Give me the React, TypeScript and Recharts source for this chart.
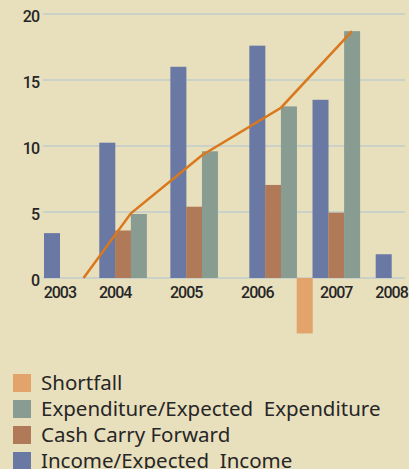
import React from 'react';
import { ComposedChart, Bar, Line, XAxis, YAxis, CartesianGrid } from 'recharts';

const years = ['2003', '2004', '2005', '2006', '2007', '2008'];
const income = [3.4, 10.25, 16.0, 17.6, 13.5, 1.8];
const cashCarryForward = [null, 3.6, 5.4, 7.05, 4.95, null];
const expenditure = [null, 4.85, 9.6, 13.0, 18.7, null];
const shortfall = [null, null, null, -4.2, null, null];
const trend = [0, 4.9, 9.3, 12.9, 18.7];
const yTicks = [0, 5, 10, 15, 20];

// the original graphic spaces its year groups unevenly, so the x axis is cut
// into half-bar slots and each group / label / line point sits on one of them
const slotCount = 44;
const groupSlots = [0, 7, 16, 26, 34, 42];
const labelSlots = [1, 8, 17, 26, 36, 43];
const trendSlots = [4, 10, 19, 29, 38];

const COLORS = {
  income: '#6a78a4',
  cash: '#b07a58',
  expenditure: '#889c91',
  shortfall: '#e3a46b',
  trend: '#d9781c',
  grid: '#c9d1c9',
  text: '#262626',
  bg: '#e8dfbd',
};

type Row = {
  label: string;
  income: number | null;
  cash: number | null;
  expenditure: number | null;
  shortfall: number | null;
  trend: number | null;
};

const rows: Row[] = Array.from({ length: slotCount }, () => ({
  label: '',
  income: null,
  cash: null,
  expenditure: null,
  shortfall: null,
  trend: null,
}));

years.forEach((year, i) => {
  const g = groupSlots[i];
  rows[labelSlots[i]].label = year;
  rows[g].income = income[i];
  if (cashCarryForward[i] != null) rows[g + 2].cash = cashCarryForward[i];
  if (expenditure[i] != null) rows[g + 4].expenditure = expenditure[i];
  if (shortfall[i] != null) rows[g + 6].shortfall = shortfall[i];
});
trend.forEach((v, i) => {
  rows[trendSlots[i]].trend = v;
});

const legendItems = [
  { name: 'Shortfall', color: COLORS.shortfall },
  { name: 'Expenditure/Expected  Expenditure', color: COLORS.expenditure },
  { name: 'Cash Carry Forward', color: COLORS.cash },
  { name: 'Income/Expected  Income', color: COLORS.income },
];

// bars are one bar wide but each slot is half a bar, so draw them double width
const WideBar = (props: any) => {
  const { x, y, width, height, fill } = props;
  if (!height || isNaN(height)) return null;
  const top = height < 0 ? y + height : y;
  return <rect x={x - width / 2} y={top} width={width * 2} height={Math.abs(height)} fill={fill} />;
};

const tickStyle = {
  fill: COLORS.text,
  fontSize: 16,
  fontFamily: 'Roboto, sans-serif',
  fontWeight: 500,
  letterSpacing: -1,
};

const App: React.FC = () => {
  return (
    <div
      style={{
        position: 'fixed',
        top: 0,
        left: 0,
        width: 409,
        height: 469,
        overflow: 'hidden',
        background: COLORS.bg,
      }}
    >
      <ComposedChart
        width={409}
        height={469}
        data={rows}
        margin={{ top: 14, right: 4, bottom: 95, left: 0 }}
        barCategoryGap={0}
        barGap={0}
        stackOffset="sign"
      >
        <CartesianGrid vertical={false} horizontalValues={yTicks} stroke={COLORS.grid} strokeWidth={2} />
        <XAxis
          dataKey="label"
          interval={0}
          axisLine={false}
          tickLine={false}
          tickSize={0}
          tickMargin={0}
          height={30}
          padding={{ left: 5, right: 9.5 }}
          tick={{ ...tickStyle, dy: -57 }}
        />
        <YAxis
          domain={[-5, 20]}
          ticks={yTicks}
          width={43}
          axisLine={false}
          tickLine={false}
          tickSize={0}
          tickMargin={4}
          tick={{ ...tickStyle, dy: 2.5 }}
        />
        <Bar dataKey="income" stackId="a" fill={COLORS.income} shape={<WideBar />} isAnimationActive={false} />
        <Bar dataKey="cash" stackId="a" fill={COLORS.cash} shape={<WideBar />} isAnimationActive={false} />
        <Bar dataKey="expenditure" stackId="a" fill={COLORS.expenditure} shape={<WideBar />} isAnimationActive={false} />
        <Bar dataKey="shortfall" stackId="a" fill={COLORS.shortfall} shape={<WideBar />} isAnimationActive={false} />
        <Line
          dataKey="trend"
          type="linear"
          connectNulls
          dot={false}
          activeDot={false}
          stroke={COLORS.trend}
          strokeWidth={2.5}
          isAnimationActive={false}
        />
      </ComposedChart>
      {legendItems.map((item, i) => (
        <div
          key={item.name}
          style={{
            position: 'absolute',
            left: 13,
            top: 369 + i * 26,
            height: 26,
            display: 'flex',
            alignItems: 'flex-start',
            whiteSpace: 'pre',
            fontFamily: "'Noto Sans', sans-serif",
            fontSize: 20.5,
            lineHeight: '26px',
            color: COLORS.text,
          }}
        >
          <span style={{ width: 18, height: 18, marginTop: 5, marginRight: 10, background: item.color }} />
          <span>{item.name}</span>
        </div>
      ))}
    </div>
  );
};

export default App;
